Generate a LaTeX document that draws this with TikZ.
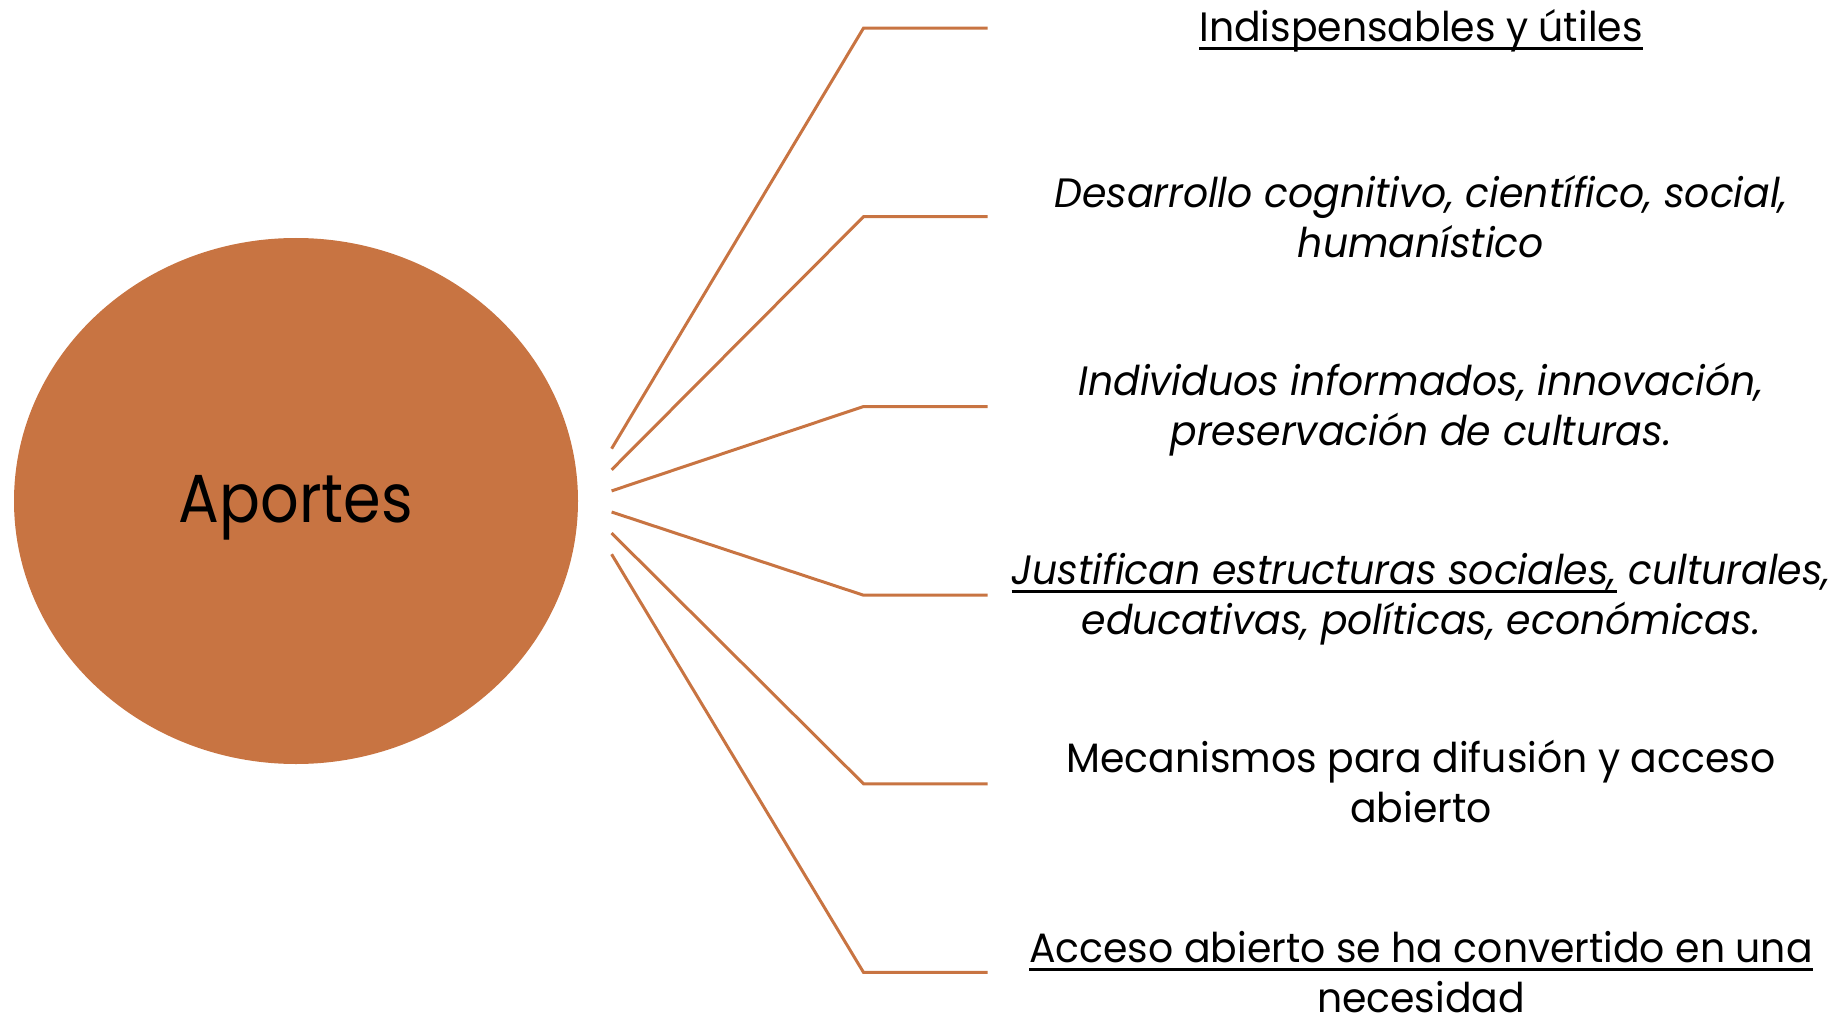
\documentclass[tikz,border=0pt]{standalone}
\usepackage{fontspec}
\setmainfont{Poppins}[FakeStretch=0.96]
\newfontfamily\hubfont{Poppins}[FakeStretch=0.89]
\usetikzlibrary{shapes.geometric}
\definecolor{accent}{RGB}{200,116,66}
\newsavebox\ulbox
\newcommand\uln[1]{\sbox\ulbox{#1}\rlap{\rule[-4.2pt]{\wd\ulbox}{1.5pt}}\usebox\ulbox}
\begin{document}
\begin{tikzpicture}[x=0.5pt,y=-0.5pt,
  link/.style={draw=accent,line width=1.5pt},
  item/.style={align=center,inner sep=0pt,font=\fontsize{20.5}{24.9}\selectfont},
  hub/.style={ellipse,fill=accent,inner sep=0pt,minimum width=282pt,minimum height=263pt},
  hublabel/.style={anchor=base,inner sep=0pt,font=\hubfont\fontsize{34}{40}\selectfont}]
\useasboundingbox (0,0) rectangle (1837,1016);
\node[hub] (c) at (296,501) {};
\node[hublabel] (lbl) at (296,522) {Aportes};
\foreach \i/\sy/\by in {1/448.7/28.1,2/469.8/216.7,3/490.9/406.5,4/512.0/595.2,5/533.1/783.8,6/554.2/972.4}{
  \coordinate (s\i) at (611.6,\sy);
  \coordinate (b\i) at (863.5,\by);
  \coordinate (e\i) at (987.7,\by);
  \draw[link] (s\i) -- (b\i) -- (e\i);
}
\node[item] (t1) at (1421,31) {\uln{Indispensables y útiles}};
\node[item] (t2) at (1421,216.7) {\itshape Desarrollo cognitivo, científico, social,\\ \itshape humanístico};
\node[item] (t3) at (1421,410) {\itshape Individuos informados, innovación,\\ \itshape preservación de culturas.};
\node[item] (t4) at (1421,599) {\itshape \uln{Justifican estructuras sociales,} culturales,\\ \itshape educativas, políticas, económicas.};
\node[item] (t5) at (1421,781.5) {Mecanismos para difusión y acceso\\ abierto};
\node[item] (t6) at (1421,976) {\uln{Acceso abierto se ha convertido en una}\\ \uln{necesidad}};
\end{tikzpicture}
\end{document}
